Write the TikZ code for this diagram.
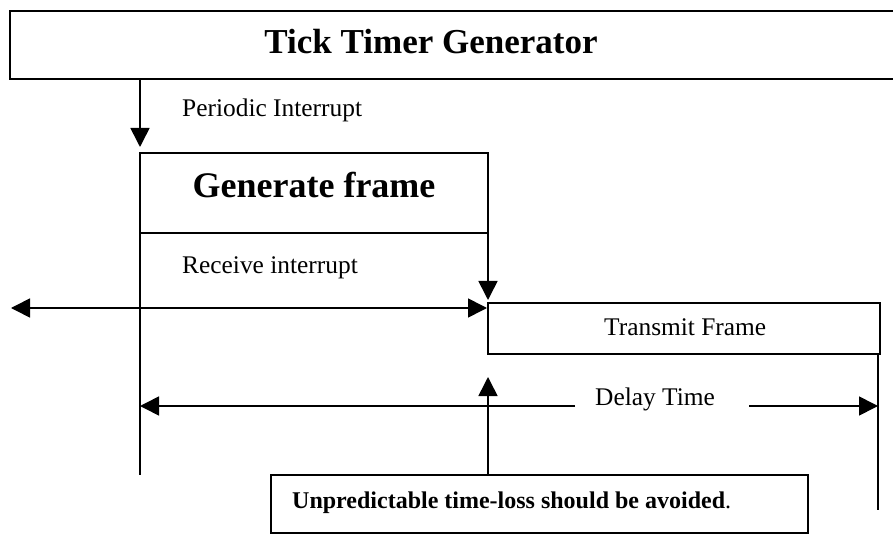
\documentclass[tikz,border=0pt]{standalone}
\usepackage{fontspec}
\setmainfont{Liberation Serif}
\usetikzlibrary{arrows.meta}
\begin{document}
\begin{tikzpicture}[x=1pt,y=-1pt,
  >={Triangle[length=19pt,width=19pt]},
  frame/.style={draw, line width=1.6pt, rectangle, inner sep=0pt, outer sep=0pt, anchor=north west},
  wire/.style={line width=1.6pt},
  body/.style={font=\fontsize{25.4}{30}\selectfont, inner sep=0pt},
  ]
\useasboundingbox (0,0) rectangle (893,534);
\clip (0,0) rectangle (893,534);

% boxes
\node[frame, line width=2pt, minimum width=900pt, minimum height=68pt] (ttg) at (10,11) {};
\node[frame, minimum width=348pt, minimum height=80pt] (gen) at (140,153) {};
\node[frame, minimum width=392pt, minimum height=51pt] (tx) at (488,303) {};
\node[frame, minimum width=537pt, minimum height=58pt] (note) at (271,475) {};

% box captions
\node[anchor=base, inner sep=0pt, font=\fontsize{35}{40}\selectfont\bfseries] (ttgtext) at (431,54) {Tick Timer Generator};
\node[anchor=base, inner sep=0pt, font=\fontsize{36}{40}\selectfont\bfseries] (gentext) at (314,198) {Generate frame};
\node[body, anchor=base west] (txtext) at (604,335) {Transmit Frame};
\node[anchor=base west, inner sep=0pt, font=\fontsize{24}{28}\selectfont] (notetext) at (292,508) {\textbf{Unpredictable time-loss should be avoided}.};

% free labels
\node[body, anchor=base west] (periodic) at (182,117) {Periodic Interrupt};
\node[body, anchor=base west] (receive) at (182,273) {Receive interrupt};
\node[body, anchor=base west] (delay) at (595,405) {Delay Time};

% line ends
\coordinate (leftfoot) at (140,475);
\coordinate (rightfoot) at (878,510);
\coordinate (rxleft) at (11,308);

% connectors
\draw[wire,->] (ttg.south -| gen.west) -- ([yshift=6pt]gen.north west);
\draw[wire] (gen.south west) -- (leftfoot);
\draw[wire,->] (gen.south east) -- ([yshift=3pt]tx.north west);
\draw[wire,<->] (rxleft) -- ([xshift=-1pt]rxleft -| tx.west);
\draw[wire] ([xshift=-2pt]tx.south east) -- (rightfoot);
\draw[wire,->] (note.north -| tx.west) -- ([yshift=-23pt]tx.south west);
\draw[wire,->] ([xshift=-20pt,yshift=-1pt]delay.base west) -- ([yshift=-1pt]delay.base west -| gen.west);
\draw[wire,->] ([xshift=34pt,yshift=-1pt]delay.base east) -- ([yshift=-1pt]delay.base east -| rightfoot);
\end{tikzpicture}
\end{document}
